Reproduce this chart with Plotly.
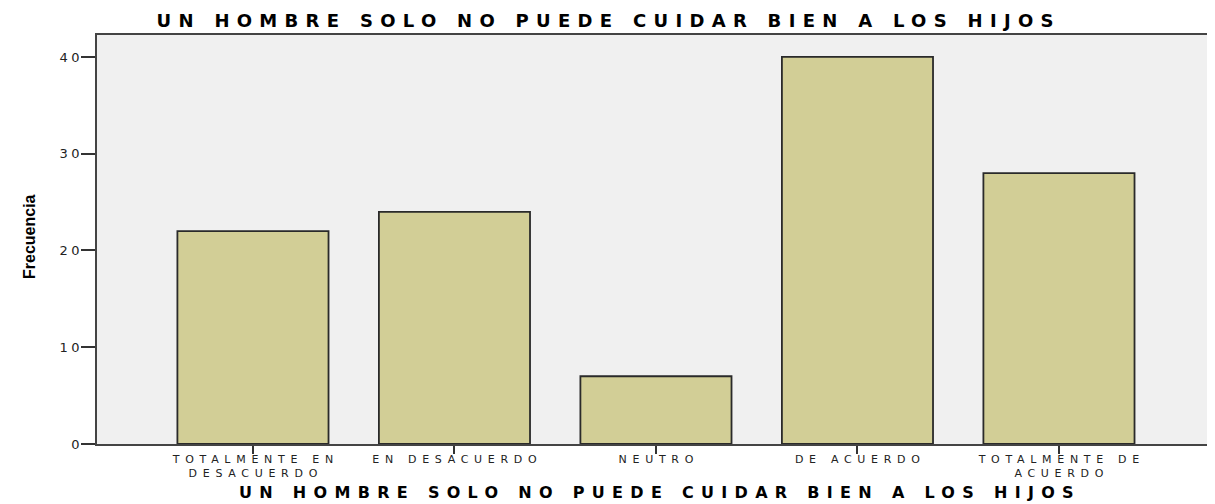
import plotly.graph_objects as go

categories = ["TOTALMENTE EN<br>DESACUERDO", "EN DESACUERDO", "NEUTRO", "DE ACUERDO", "TOTALMENTE DE<br>ACUERDO"]
frecuencia = [22, 24, 7, 40, 28]
y_ticks = [0, 10, 20, 30, 40]
title_text = "UN HOMBRE SOLO NO PUEDE CUIDAR BIEN A LOS HIJOS"
y_title = "Frecuencia"


def spaced(text, px):
    # letter spacing between characters only (none after the last one)
    if len(text) < 2:
        return text
    return '<span style="letter-spacing:%spx">%s</span>%s' % (px, text[:-1], text[-1])


tick_text = ["<br>".join(spaced(part, 5.7) for part in c.split("<br>")) for c in categories]

fig = go.Figure()
fig.add_trace(go.Bar(
    x=list(range(len(categories))), y=frecuencia,
    width=0.75,
    marker=dict(color="#D2CE96", line=dict(color="#2a2a2a", width=1.8)),
    hoverinfo="y",
))

# page body has an 8px margin; figure placed at (8, 8) and sized to reach the window edge
W, H = 1199, 496
L, R, T, B = 89, 0, 27, 60
pw, ph = W - L - R, H - T - B

fig.update_layout(
    width=W, height=H,
    margin=dict(l=L, r=R, t=T, b=B),
    paper_bgcolor="white", plot_bgcolor="#F0F0F0",
    showlegend=False,
    title=dict(text="<b>" + spaced(title_text, 7.3) + "</b>", x=597 / W, xanchor="center",
               y=1 - 13 / H, yanchor="middle",
               font=dict(family="DejaVu Sans", size=18, color="black")),
    font=dict(family="DejaVu Sans", color="#222"),
    annotations=[
        dict(text="<b>" + spaced(title_text, 7.3) + "</b>", xref="paper", yref="paper",
             x=(648 - L) / pw, y=(H - B - 484) / ph, xanchor="center", yanchor="middle",
             showarrow=False, font=dict(family="DejaVu Sans", size=16, color="black")),
        dict(text="<b>" + y_title + "</b>", xref="paper", yref="paper",
             x=(21 - L) / pw, y=(H - B - 229) / ph, xanchor="center", yanchor="middle",
             textangle=-90, showarrow=False,
             font=dict(family="Liberation Sans", size=16, color="black")),
    ],
)
fig.update_xaxes(
    range=[-0.774, -0.774 + pw / 201.5], automargin=False,
    tickmode="array", tickvals=list(range(len(categories))), ticktext=tick_text,
    ticks="outside", ticklen=8, tickcolor="#333", tickwidth=2,
    ticklabelstandoff=-4,
    tickfont=dict(family="DejaVu Sans", size=11, color="#222"),
    showline=True, linecolor="#444", linewidth=1.5, mirror=True,
    showgrid=False, zeroline=False,
)
fig.update_yaxes(
    range=[0, 42.27], automargin=False,
    tickmode="array", tickvals=y_ticks, ticktext=[spaced(str(v), 3.5) for v in y_ticks],
    ticks="outside", ticklen=14, tickcolor="#333", tickwidth=2,
    ticklabelstandoff=-1,
    tickfont=dict(family="DejaVu Sans", size=13, color="#222"),
    showline=True, linecolor="#444", linewidth=1.8, mirror=True,
    showgrid=False, zeroline=False,
)

fig.write_html("out.html")
